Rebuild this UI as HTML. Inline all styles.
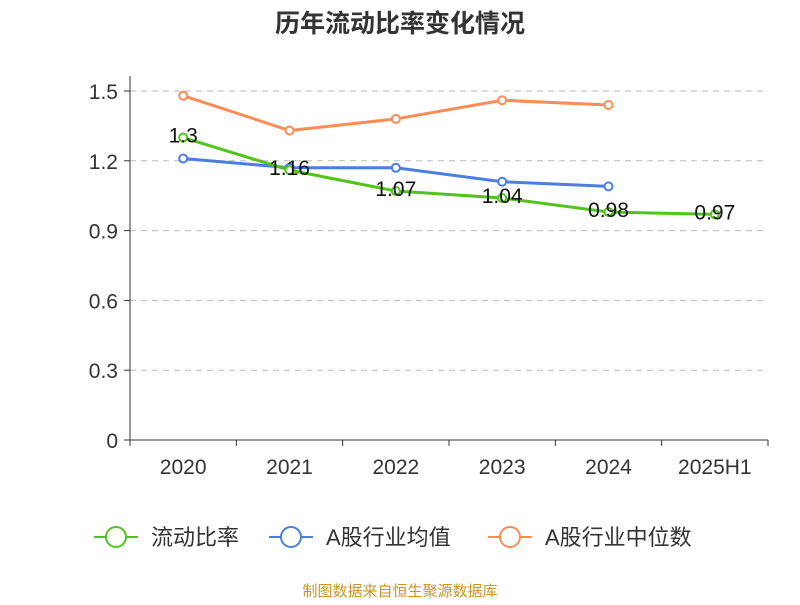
<!DOCTYPE html>
<html><head><meta charset="utf-8"><style>
body{margin:0;background:#fff;font-family:"Liberation Sans","Noto Sans CJK SC",sans-serif}
</style></head><body>
<svg width="800" height="600" xmlns="http://www.w3.org/2000/svg" id="chart" font-family="Liberation Sans, Noto Sans CJK SC, sans-serif">
<text x="400" y="32" text-anchor="middle" font-size="25" font-weight="bold" fill="#333">历年流动比率变化情况</text>
<g id="grid"></g><g id="axes"></g><g id="series"></g>
<g>
<g><line x1="94" y1="537" x2="138" y2="537" stroke="#52c41a" stroke-width="2"/><circle cx="116" cy="537" r="10" fill="#fff" stroke="#52c41a" stroke-width="2"/><text x="151" y="545" font-size="22" fill="#333">流动比率</text></g>
<g><line x1="269" y1="537" x2="313" y2="537" stroke="#4a7ee0" stroke-width="2"/><circle cx="291" cy="537" r="10" fill="#fff" stroke="#4a7ee0" stroke-width="2"/><text x="326" y="545" font-size="22" fill="#333">A股行业均值</text></g>
<g><line x1="488" y1="537" x2="532" y2="537" stroke="#ff8c55" stroke-width="2"/><circle cx="510" cy="537" r="10" fill="#fff" stroke="#ff8c55" stroke-width="2"/><text x="545" y="545" font-size="22" fill="#333">A股行业中位数</text></g>
</g>
<text x="400" y="596" text-anchor="middle" font-size="15" fill="#c8962a">制图数据来自恒生聚源数据库</text>
</svg>
<script>
const categories=["2020","2021","2022","2023","2024","2025H1"];
const currentRatio=[1.3,1.16,1.07,1.04,0.98,0.97];
const industryAvg=[1.21,1.17,1.17,1.11,1.09];
const industryMedian=[1.48,1.33,1.38,1.46,1.44];
const yTicks=[0,0.3,0.6,0.9,1.2,1.5];
const yTickLabels=["0","0.3","0.6","0.9","1.2","1.5"];
const NS="http://www.w3.org/2000/svg";
const L=130,R=768,T=91,B=440;
const bw=(R-L)/categories.length;
const x=i=>L+bw*(i+0.5);
const y=v=>B-(v/1.5)*(B-T);
function mk(tag,attrs,parent,text){const e=document.createElementNS(NS,tag);for(const k in attrs)e.setAttribute(k,attrs[k]);if(text!==undefined)e.textContent=text;document.getElementById(parent).appendChild(e);return e;}
yTicks.forEach((v,i)=>{
 if(v>0){const g=mk("line",{x1:L,x2:R,y1:y(v),y2:y(v),stroke:"#bbb","stroke-dasharray":"6,5"},"grid");
 
 }
 mk("line",{x1:L-6,x2:L,y1:y(v),y2:y(v),stroke:"#333"},"axes");
 const lb=mk("text",{x:L-12,y:y(v)+8,"text-anchor":"end","font-size":21,fill:"#333"},"axes",yTickLabels[i]);
 
 
});
mk("line",{x1:L,x2:L,y1:T-15,y2:B,stroke:"#333"},"axes");
mk("line",{x1:L,x2:R,y1:B,y2:B,stroke:"#333"},"axes");
for(let i=0;i<=categories.length;i++)mk("line",{x1:L+bw*i,x2:L+bw*i,y1:B,y2:B+6,stroke:"#333"},"axes");
categories.forEach((c,i)=>{const t=mk("text",{x:x(i),y:B+34,"text-anchor":"middle","font-size":21,fill:"#333"},"axes",c);
 
 });
function series(vals,color,name,labels){
 const p=mk("polyline",{points:vals.map((v,i)=>x(i)+","+y(v)).join(" "),fill:"none",stroke:color,"stroke-width":3},"series");
 
 
 vals.forEach((v,i)=>{const c=mk("circle",{cx:x(i),cy:y(v),r:4,fill:"#fff",stroke:color,"stroke-width":2},"series");
  
  
  if(labels){const t=mk("text",{x:x(i),y:y(v)+5,"text-anchor":"middle","font-size":21,fill:"#111"},"series",String(v));
  
  }
 });
}
series(industryMedian,"#ff8c55","industry-median",false);
series(industryAvg,"#4a7ee0","industry-average",false);
series(currentRatio,"#52c41a","current-ratio",true);
</script>
</body></html>
